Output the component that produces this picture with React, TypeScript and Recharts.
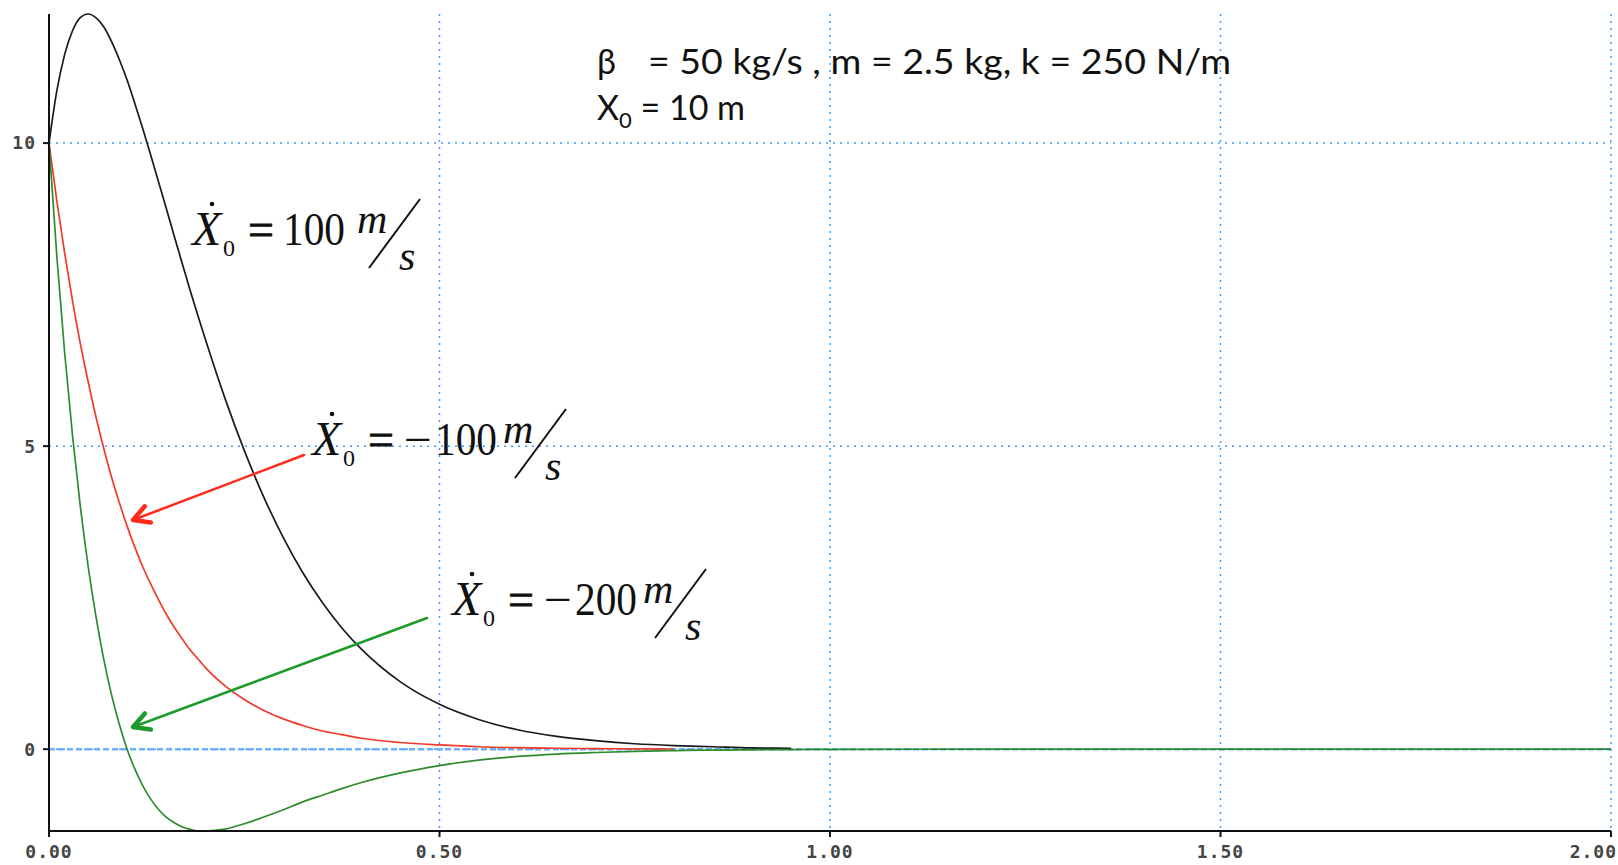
import { LineChart, Line, XAxis, YAxis, CartesianGrid, ReferenceLine } from 'recharts';

// time (s)
const time = [
  0, 0.01, 0.02, 0.03, 0.04, 0.05, 0.06, 0.07, 0.08, 0.09, 0.1,
  0.11, 0.12, 0.13, 0.14, 0.15, 0.16, 0.17, 0.18, 0.19, 0.2,
  0.225, 0.25, 0.275, 0.3, 0.325, 0.35, 0.375, 0.4,
  0.45, 0.5, 0.55, 0.6, 0.65, 0.7, 0.75, 0.8, 0.85, 0.9, 0.95, 1.0,
  1.2, 1.4, 1.6, 1.8, 2.0,
];

// x(t) for v0 = 100 m/s (black, ends near t = 0.95)
const xV100 = [
  10, 10.86, 11.46, 11.85, 12.07, 12.13, 12.07, 11.92, 11.68, 11.38, 11.04,
  10.65, 10.24, 9.81, 9.37, 8.93, 8.48, 8.04, 7.6, 7.18, 6.77,
  5.8, 4.93, 4.16, 3.49, 2.91, 2.42, 2.0, 1.65,
  1.11, 0.74, 0.49, 0.32, 0.21, 0.14, 0.09, 0.06, 0.04, 0.02, 0.015,
];

// x(t) for v0 = -100 m/s (red, ends near t = 0.80)
const xVm100 = [
  10, 9.05, 8.19, 7.41, 6.7, 6.07, 5.49, 4.97, 4.49, 4.07, 3.68,
  3.33, 3.01, 2.73, 2.47, 2.23, 2.02, 1.83, 1.65, 1.5, 1.35,
  1.05, 0.82, 0.64, 0.5, 0.39, 0.3, 0.24, 0.18,
  0.11, 0.07, 0.04, 0.025, 0.015, 0.009, 0.006, 0.003,
];

// x(t) for v0 = -200 m/s (green)
const xVm200 = [
  10, 8.14, 6.55, 5.19, 4.02, 3.03, 2.2, 1.49, 0.9, 0.41, 0,
  -0.33, -0.6, -0.82, -0.99, -1.12, -1.21, -1.28, -1.32, -1.35, -1.35,
  -1.32, -1.23, -1.12, -1.0, -0.87, -0.76, -0.65, -0.55,
  -0.39, -0.27, -0.18, -0.12, -0.08, -0.055, -0.036, -0.023, -0.015, -0.01, -0.006, -0.004,
  0, 0, 0, 0, 0,
];

const xTicks = [0, 0.5, 1, 1.5, 2];
const yTicks = [0, 5, 10];

const data = time.map((t, i) => ({
  t,
  black: xV100[i],
  red: xVm100[i],
  green: xVm200[i],
}));

const GRID = '#3d9bff';
const MONO = '"DejaVu Sans Mono", monospace';
const tickStyle = {
  fontFamily: MONO,
  fontSize: 18,
  fontWeight: 'bold' as const,
  fill: '#444',
  letterSpacing: 1,
};

// last label pulled inside the right edge, like the original
const XTick = (props: any) => {
  const { x, y, payload } = props;
  const last = payload.value === xTicks[xTicks.length - 1];
  return (
    <text
      x={last ? x + 6 : x}
      y={y}
      dy="0.71em"
      textAnchor={last ? 'end' : 'middle'}
      fontFamily={MONO}
      fontSize={18}
      fontWeight="bold"
      fill="#444"
      letterSpacing={1}
    >
      {Number(payload.value).toFixed(2)}
    </text>
  );
};

const SERIF = '"Liberation Serif", "Times New Roman", serif';

// dotted X with subscript 0, value and m/s fraction
const Eq = ({ x, y, sign, value }: { x: number; y: number; sign: boolean; value: string }) => {
  const numX = sign ? 123 : 91;
  const m = sign ? 191 : 165;
  return (
    <g transform={`translate(${x},${y})`} fill="#111" fontFamily={SERIF}>
      <text x={0} y={0} fontSize={48} fontStyle="italic">X</text>
      <circle cx={20} cy={-41} r={2.3} />
      <text x={31} y={11} fontSize={24}>0</text>
      <text x={56} y={0} fontSize={46} stroke="#111" strokeWidth={0.8}>=</text>
      {sign && <text x={92} y={0} fontSize={46} textLength={28} lengthAdjust="spacingAndGlyphs">−</text>}
      <text x={numX} y={0} fontSize={46} textLength={62} lengthAdjust="spacingAndGlyphs">
        {value}
      </text>
      <text x={m} y={-12} fontSize={42} fontStyle="italic">m</text>
      <line x1={m + 12} y1={23} x2={m + 63} y2={-46} stroke="#111" strokeWidth={2} />
      <text x={m + 42} y={25} fontSize={42} fontStyle="italic">s</text>
    </g>
  );
};

const Arrow = ({ x1, y1, x2, y2, color }: { x1: number; y1: number; x2: number; y2: number; color: string }) => {
  const a = Math.atan2(y2 - y1, x2 - x1);
  const len = 18;
  const spread = 0.5;
  const p1 = [x2 - len * Math.cos(a - spread), y2 - len * Math.sin(a - spread)];
  const p2 = [x2 - len * Math.cos(a + spread), y2 - len * Math.sin(a + spread)];
  return (
    <g stroke={color} fill="none" strokeLinecap="round" strokeLinejoin="round">
      <line x1={x1} y1={y1} x2={x2} y2={y2} strokeWidth={2.5} />
      <polyline points={`${p1[0]},${p1[1]} ${x2},${y2} ${p2[0]},${p2[1]}`} strokeWidth={4.5} />
    </g>
  );
};

export default function App() {
  return (
    <div style={{ position: 'absolute', left: 0, top: 0, width: 1618, height: 865, background: '#fff' }}>
      <LineChart
        width={1618}
        height={865}
        data={data}
        margin={{ top: 14, right: 7, bottom: 4, left: 0 }}
      >
        <CartesianGrid stroke={GRID} strokeDasharray="2 5" strokeWidth={1.5} horizontalValues={yTicks} verticalValues={xTicks} />
        <XAxis
          dataKey="t"
          type="number"
          domain={[0, 2]}
          ticks={xTicks}
          axisLine={{ stroke: '#111', strokeWidth: 2 }}
          tickLine={{ stroke: '#111', strokeWidth: 2 }}
          tickSize={6}
          tickMargin={8}
          tick={<XTick />}
          height={30}
          interval={0}
        />
        <YAxis
          type="number"
          domain={['dataMin', 'dataMax']}
          ticks={yTicks}
          axisLine={{ stroke: '#111', strokeWidth: 2 }}
          tickLine={{ stroke: '#111', strokeWidth: 2 }}
          tickSize={6}
          tickMargin={7}
          tick={tickStyle}
          width={49}
          interval={0}
        />
        <ReferenceLine y={0} stroke="#6ab0ff" strokeWidth={2.5} strokeDasharray="6 3" />
        <Line dataKey="black" type="monotone" stroke="#1a1a1a" strokeWidth={1.7} dot={false} isAnimationActive={false} />
        <Line dataKey="red" type="monotone" stroke="#f23a2a" strokeWidth={1.7} dot={false} isAnimationActive={false} />
        <Line dataKey="green" type="monotone" stroke="#2e8b2e" strokeWidth={1.7} dot={false} isAnimationActive={false} />
      </LineChart>
      <svg
        width={1618}
        height={865}
        style={{ position: 'absolute', left: 0, top: 0, pointerEvents: 'none' }}
      >
        <g fontFamily="Lato, 'Open Sans', sans-serif" fontSize={34} fill="#111">
          <text x={597} y={74}>β</text>
          <text x={648} y={74} textLength={583} lengthAdjust="spacingAndGlyphs">
            = 50 kg/s , m = 2.5 kg, k = 250 N/m
          </text>
          <text x={597} y={120}>
            X<tspan fontSize={22} dy={8}>0</tspan>
            <tspan dy={-8}> = 10 m</tspan>
          </text>
        </g>
        <Eq x={192} y={245} sign={false} value="100" />
        <Eq x={312} y={455} sign value="100" />
        <Eq x={452} y={615} sign value="200" />
        <Arrow x1={304} y1={455} x2={133} y2={520} color="#ff2a1a" />
        <Arrow x1={427} y1={618} x2={133} y2={727} color="#1d9a2a" />
      </svg>
    </div>
  );
}
